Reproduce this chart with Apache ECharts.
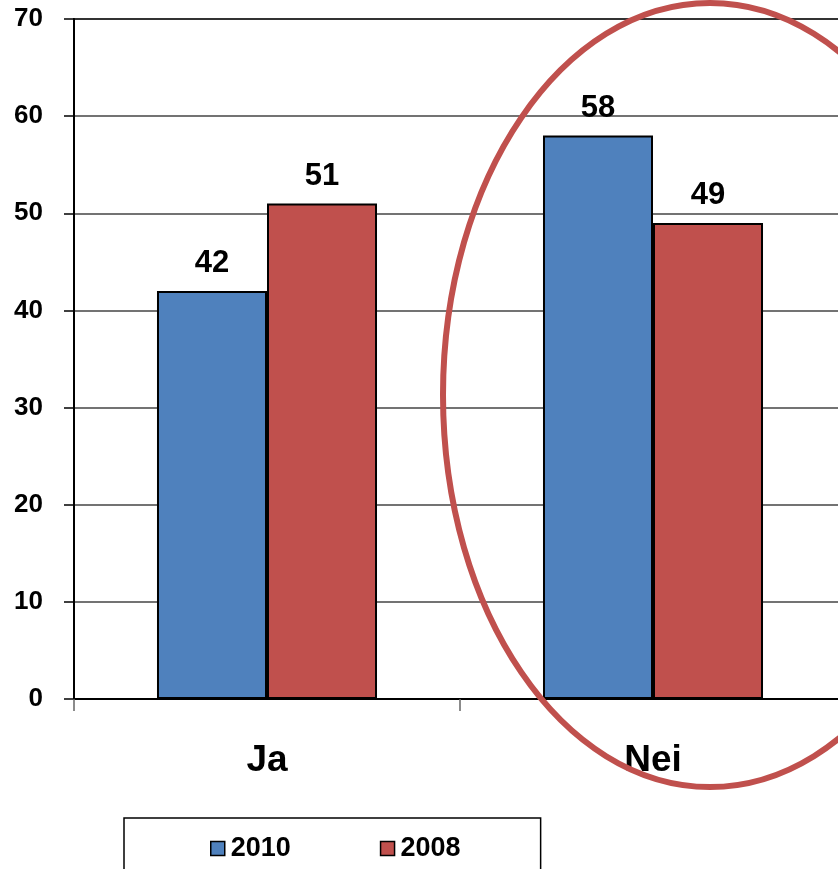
<!DOCTYPE html>
<html><head><meta charset="utf-8">
<script src="https://cdn.jsdelivr.net/npm/echarts@6/dist/echarts.min.js"></script>
<style>html,body{margin:0;padding:0;background:#fff}#c{width:838px;height:869px}</style>
</head><body><div id="c"></div>
<script>
const categories = ['Ja', 'Nei'];
const seriesNames = ['2010', '2008'];
const values2010 = [42, 58];
const values2008 = [51, 49];
const yTicks = [0, 10, 20, 30, 40, 50, 60, 70];

const FONT = '"Liberation Sans", Arial, sans-serif';
const chart = echarts.init(document.getElementById('c'));
const labelStyle = {show: true, position: 'top', distance: 12, fontFamily: FONT, fontWeight: 'bold', fontSize: 31, color: '#000'};
chart.setOption({
  animation: false,
  backgroundColor: '#fff',
  grid: {left: 74, width: 772, top: 19, height: 680, outerBoundsMode: 'none', containLabel: false,
         show: true, borderColor: '#000', borderWidth: 2, backgroundColor: 'transparent'},
  legend: {
    data: seriesNames, left: 124, top: 818, orient: 'horizontal',
    padding: [17, 80, 40, 86], itemGap: 89, itemWidth: 14, itemHeight: 14, icon: 'rect',
    borderColor: '#000', borderWidth: 1.5,
    textStyle: {fontFamily: FONT, fontWeight: 'bold', fontSize: 27, color: '#000', padding: [0, 0, 0, 1]},
    itemStyle: {borderColor: '#000', borderWidth: 1.5}
  },
  xAxis: {
    type: 'category', data: categories,
    axisLine: {lineStyle: {color: '#000', width: 2}},
    axisTick: {show: true, length: 12, lineStyle: {color: '#666', width: 1.5}},
    axisLabel: {margin: 43, fontFamily: FONT, fontWeight: 'bold', fontSize: 37, color: '#000'}
  },
  yAxis: {
    type: 'value', min: yTicks[0], max: yTicks[yTicks.length - 1], interval: 10,
    axisLine: {show: true, lineStyle: {color: '#000', width: 2}},
    axisTick: {show: true, length: 10, lineStyle: {color: '#000', width: 1.5}},
    splitLine: {lineStyle: {color: '#444', width: 1.5}},
    axisLabel: {margin: 31, fontFamily: FONT, fontWeight: 'bold', fontSize: 26, color: '#000'}
  },
  series: [
    {name: seriesNames[0], type: 'bar', data: values2010, barGap: '0%', barCategoryGap: '43%',
     itemStyle: {color: '#4f81bd', borderColor: '#000', borderWidth: 2}, label: labelStyle},
    {name: seriesNames[1], type: 'bar', data: values2008,
     itemStyle: {color: '#c0504d', borderColor: '#000', borderWidth: 2}, label: labelStyle}
  ],
  graphic: [{
    type: 'ellipse', z: 100, silent: true,
    shape: {cx: 710, cy: 395, rx: 267, ry: 392},
    style: {fill: null, stroke: '#c0504d', lineWidth: 6}
  }]
});
</script></body></html>
